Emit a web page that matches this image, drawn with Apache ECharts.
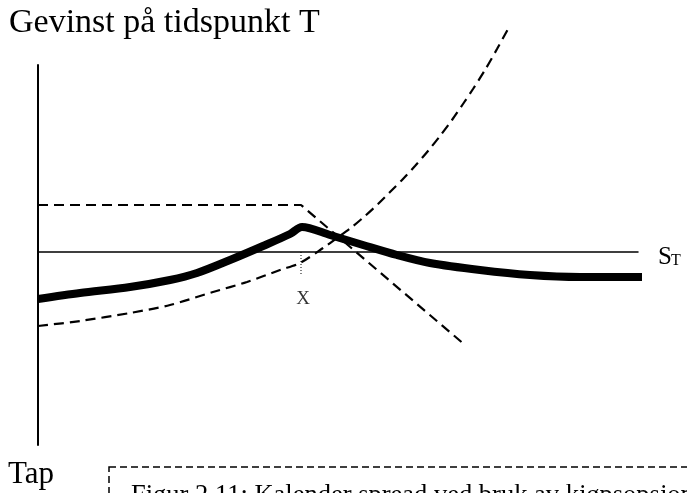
<!DOCTYPE html>
<html>
<head>
<meta charset="utf-8">
<script src="https://cdn.jsdelivr.net/npm/echarts@6/dist/echarts.min.js"></script>
<style>
  html, body { margin: 0; padding: 0; background: #fff; }
  #chart { width: 687px; height: 493px; }
</style>
</head>
<body>
<div id="chart"></div>
<script>
// texts
const titleText = 'Gevinst på tidspunkt T'
const lossText = 'Tap'
const strikeLabel = 'X'
const captionText = 'Figur 2.11: Kalender spread ved bruk av kjøpsopsjoner'

// kalender spread (tykk linje): S_T og gevinst
const spreadX = [0, 42, 92, 132, 159, 192, 225, 252, 264, 292, 325, 359, 392, 442, 492, 542, 604]
const spreadY = [-47, -41, -35, -28, -21, -8, 6, 18, 25, 17, 7, -3, -11, -18, -23, -25, -25]

// lang kjøpsopsjon (stiplet kurve)
const longX = [0, 42, 92, 132, 175, 209, 242, 262, 285, 299, 314, 327, 340, 352, 365, 377, 390, 402, 414, 425, 435, 447, 459, 470]
const longY = [-74, -69, -61, -53, -40, -30, -18, -11, 4, 14, 25, 36, 48, 60, 73, 86, 101, 116, 132, 148, 163, 182, 203, 223]

// kort kjøpsopsjon ved forfall (stiplet knekk)
const shortX = [0, 263, 427]
const shortY = [47, 47, -93]

// innløsningskurs X
const strikeX = 263
const strikeLow = -24

const zip = (xs, ys) => xs.map((x, i) => [x, ys[i]])

const chart = echarts.init(document.getElementById('chart'))

const dashed = { color: '#000', width: 2.2, type: [10, 6] }
const serif = '"Liberation Serif", "Times New Roman", serif'

const option = {
  animation: false,
  backgroundColor: '#fff',
  grid: { left: 38, right: 49, top: 65, bottom: 48 },
  xAxis: {
    type: 'value',
    min: 0,
    max: 600,
    axisLine: { onZero: true, lineStyle: { color: '#000', width: 1.5 } },
    axisTick: { show: false },
    axisLabel: { show: false },
    splitLine: { show: false },
  },
  yAxis: {
    type: 'value',
    min: -193,
    max: 187,
    axisLine: { show: true, lineStyle: { color: '#000', width: 2 } },
    axisTick: { show: false },
    axisLabel: { show: false },
    splitLine: { show: false },
  },
  series: [
    {
      type: 'line',
      data: zip(shortX, shortY),
      symbol: 'none',
      clip: false,
      lineStyle: dashed,
    },
    {
      type: 'line',
      data: zip(longX, longY),
      symbol: 'none',
      smooth: 0.3,
      clip: false,
      lineStyle: dashed,
    },
    {
      type: 'line',
      data: [[strikeX, 0], [strikeX, strikeLow]],
      symbol: 'none',
      clip: false,
      lineStyle: { color: '#000', width: 1, type: [1, 2] },
    },
    {
      type: 'scatter',
      data: [[strikeX + 2, -47]],
      symbolSize: 0,
      silent: true,
      label: {
        show: true,
        formatter: strikeLabel,
        position: 'inside',
        color: '#000',
        fontFamily: serif,
        fontSize: 19,
      },
    },
    {
      type: 'line',
      data: zip(spreadX, spreadY),
      symbol: 'none',
      smooth: 0.3,
      clip: false,
      lineStyle: { color: '#000', width: 8, join: 'round' },
    },
  ],
  graphic: [
    {
      type: 'text', left: 9, top: 6,
      style: { text: titleText, fill: '#000', font: '34px ' + serif },
    },
    {
      type: 'text', left: 8, top: 459,
      style: { text: lossText, fill: '#000', font: '31px ' + serif },
    },
    {
      type: 'text', left: 658, top: 245,
      style: { text: 'S', fill: '#000', font: '25px ' + serif },
    },
    {
      type: 'text', left: 671, top: 253,
      style: { text: 'T', fill: '#000', font: '16px ' + serif },
    },
    {
      type: 'rect',
      shape: { x: 109, y: 467, width: 700, height: 100 },
      style: { fill: 'none', stroke: '#000', lineWidth: 1.5, lineDash: [7, 4] },
    },
    {
      type: 'text', left: 131, top: 483,
      style: { text: captionText, fill: '#000', font: '26.5px ' + serif },
    },
  ],
}

chart.setOption(option)
</script>
</body>
</html>
